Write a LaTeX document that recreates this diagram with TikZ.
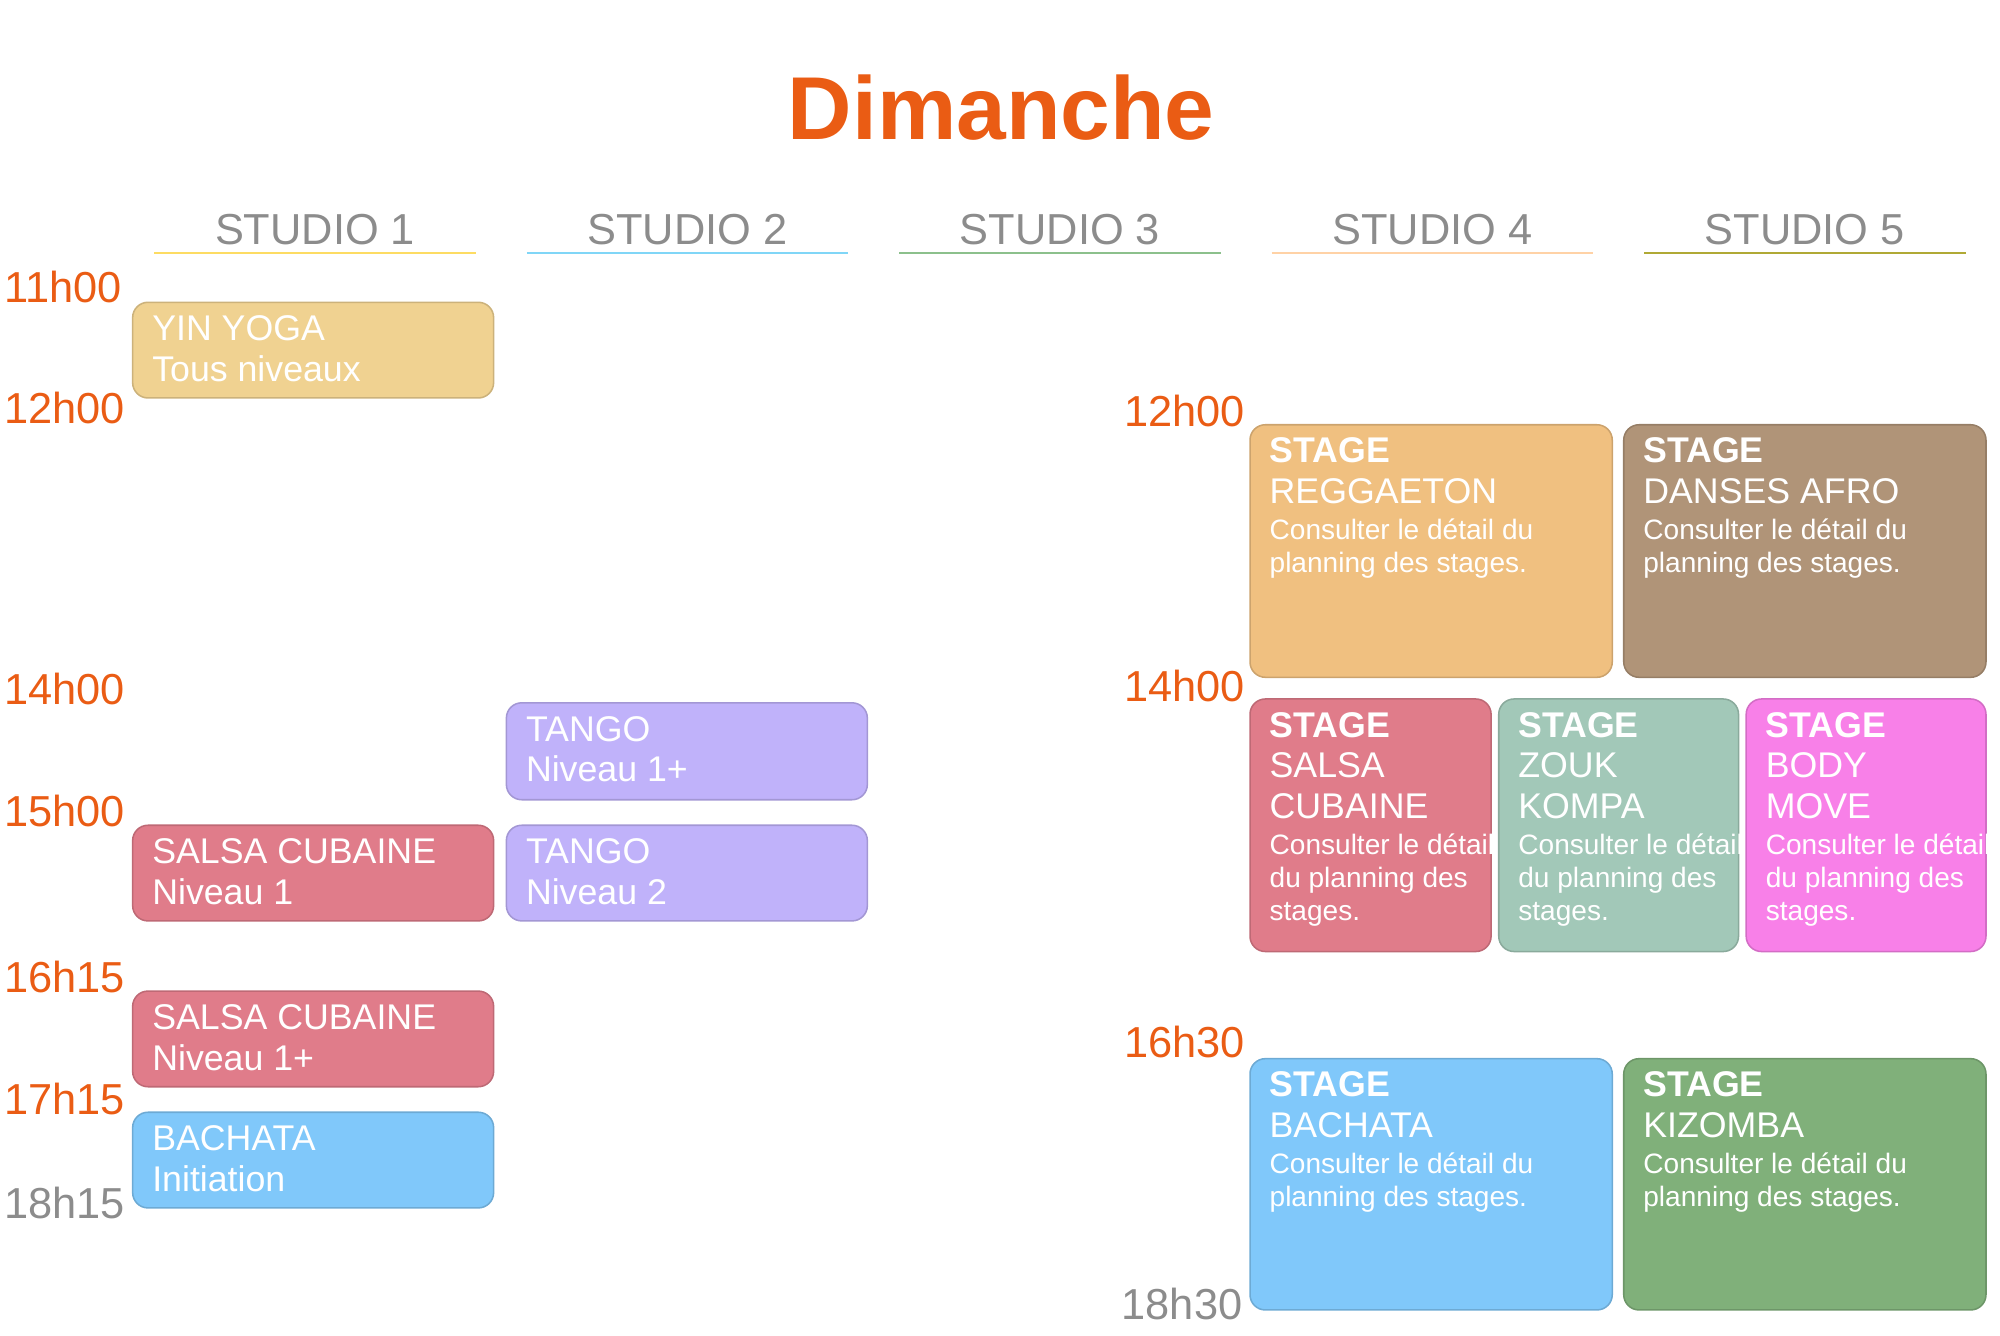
\documentclass[tikz,border=0pt]{standalone}
\usepackage{fontspec}
\setmainfont{Liberation Sans}
\usetikzlibrary{positioning}
\definecolor{orangeT}{RGB}{234,92,20}
\definecolor{grayT}{RGB}{140,140,140}
\definecolor{yogaC}{RGB}{240,210,145}
\definecolor{tangoC}{RGB}{192,178,250}
\definecolor{salsaC}{RGB}{224,124,138}
\definecolor{bachC}{RGB}{128,200,250}
\definecolor{regC}{RGB}{240,192,128}
\definecolor{afroC}{RGB}{176,148,120}
\definecolor{zoukC}{RGB}{162,200,184}
\definecolor{bodyC}{RGB}{248,128,232}
\definecolor{kizC}{RGB}{128,176,122}
\tikzset{
  slot/.style={rounded corners=6pt, line width=0.6pt},
  txt/.style={anchor=north west, inner sep=0pt, align=left, text=white, font=\fontsize{14}{16}\selectfont},
  hour/.style={anchor=west, inner sep=0pt, text=orangeT, font=\fontsize{17}{19}\selectfont},
  studio/.style={inner sep=0pt, text=grayT, font=\fontsize{17}{19}\selectfont}
}
\newcommand{\sml}{\fontsize{11}{13}\selectfont}
\newcommand{\slot}[7]{%
  \draw [slot, fill=#6, draw=#6!85!black] (#2,#3) rectangle (#4,#5);
  \node [txt] (#1) at (#2+15,#3+10) {#7};}
\begin{document}
\begin{tikzpicture}[x=0.5pt,y=0.5pt,yscale=-1]
\useasboundingbox (0,0) rectangle (1568,1047);

% title
\node [text=orangeT, font=\fontsize{35}{40}\bfseries] (title) at (785,84) {Dimanche};

% studios
\foreach \n/\cx/\c in {1/247/yellow!60!orange!60, 2/539/cyan!50, 3/831/green!45!black!45, 4/1123/orange!35, 5/1415/olive!70}{
  \node [studio] (st\n) at (\cx,180) {STUDIO \n};
  \draw [\c, line width=0.8pt] (\cx-126,198) -- (\cx+126,198);
}

% hours
\foreach \t/\x/\y in {11h00/3/225, 12h00/3/320, 14h00/3/540, 15h00/3/636, 16h15/3/766, 17h15/3/862, 12h00/881/322, 14h00/881/538, 16h30/881/817}
  \node [hour] (h\t\x) at (\x,\y) {\t};
\node [hour, text=grayT] (h1815) at (3,943) {18h15};
\node [hour, text=grayT] (h1830) at (879,1022) {18h30};

% cours
\slot{yoga}{104}{237}{387}{312}{yogaC}{YIN YOGA\\Tous niveaux}
\slot{tangoA}{397}{551}{680}{627}{tangoC}{TANGO\\Niveau 1+}
\slot{salsaA}{104}{647}{387}{722}{salsaC}{SALSA CUBAINE\\Niveau 1}
\slot{tangoB}{397}{647}{680}{722}{tangoC}{TANGO\\Niveau 2}
\slot{salsaB}{104}{777}{387}{852}{salsaC}{SALSA CUBAINE\\Niveau 1+}
\slot{bach}{104}{872}{387}{947}{bachC}{BACHATA\\Initiation}

% stages
\slot{reg}{980}{333}{1264}{531}{regC}{\textbf{STAGE}\\REGGAETON\\[-2pt]{\sml Consulter le détail du}\\[-3pt]{\sml planning des stages.}}
\slot{afro}{1273}{333}{1557}{531}{afroC}{\textbf{STAGE}\\DANSES AFRO\\[-2pt]{\sml Consulter le détail du}\\[-3pt]{\sml planning des stages.}}
\slot{salsaS}{980}{548}{1169}{746}{salsaC}{\textbf{STAGE}\\SALSA\\CUBAINE\\[-2pt]{\sml Consulter le détail}\\[-3pt]{\sml du planning des}\\[-3pt]{\sml stages.}}
\slot{zouk}{1175}{548}{1363}{746}{zoukC}{\textbf{STAGE}\\ZOUK\\KOMPA\\[-2pt]{\sml Consulter le détail}\\[-3pt]{\sml du planning des}\\[-3pt]{\sml stages.}}
\slot{body}{1369}{548}{1557}{746}{bodyC}{\textbf{STAGE}\\BODY\\MOVE\\[-2pt]{\sml Consulter le détail}\\[-3pt]{\sml du planning des}\\[-3pt]{\sml stages.}}
\slot{bachS}{980}{830}{1264}{1027}{bachC}{\textbf{STAGE}\\BACHATA\\[-2pt]{\sml Consulter le détail du}\\[-3pt]{\sml planning des stages.}}
\slot{kiz}{1273}{830}{1557}{1027}{kizC}{\textbf{STAGE}\\KIZOMBA\\[-2pt]{\sml Consulter le détail du}\\[-3pt]{\sml planning des stages.}}
\end{tikzpicture}
\end{document}
